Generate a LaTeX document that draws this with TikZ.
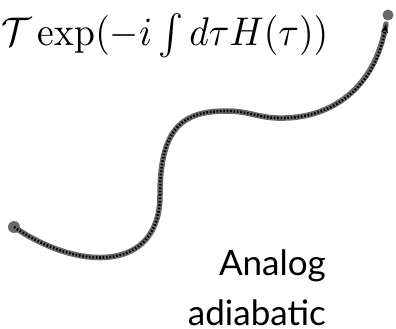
\documentclass[tikz,border=0pt]{standalone}
\usepackage{fontspec}
\newfontfamily\labelfont{Lato}
\usetikzlibrary{arrows.meta}
\definecolor{pathgray}{HTML}{6A6A6A}
\tikzset{
  pathbase/.style={line width=5.5pt, pathgray, line cap=round},
  pathdots/.style={line width=2.6pt, black, dash pattern=on 1.6pt off 1.8pt},
  enddot/.style={circle, fill=pathgray, inner sep=0pt, minimum size=12pt},
}
\begin{document}
\begin{tikzpicture}[x=1pt,y=-1pt]
\useasboundingbox (0,0) rectangle (396,329);
\node[anchor=base west, inner sep=0pt, xscale=3.75, yscale=4.0] (formula) at (1,46)
  {$\mathcal{T}\exp(-i\int d\tau H(\tau))$};
\node[enddot] (start) at (14,227) {};
\node[enddot, minimum size=11pt] (end) at (388,15) {};
\coordinate (tip) at (386,24);
\coordinate (a) at (160,195);
\coordinate (b) at (227,111);
\coordinate (c) at (285,118);
\def\curve{(start.center) .. controls (80,272) and (160,272) .. (a)
  .. controls (160,125) and (185,111) .. (b)
  .. controls (250,111) and (260,119) .. (c)
  .. controls (330,117) and (375,90) .. (tip)}
\draw[pathbase] \curve;
\draw[pathdots, -{Stealth[length=9pt,width=7pt]}] \curve;
\node[anchor=base east, align=right, inner sep=0pt, font=\labelfont\fontsize{35}{50}\selectfont] (label) at (326,325)
  {Analog\\adiabatic};
\end{tikzpicture}
\end{document}
